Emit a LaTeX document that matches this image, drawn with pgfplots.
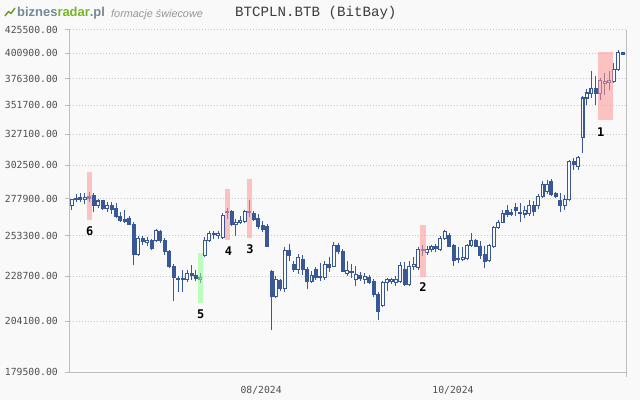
\documentclass[border=0pt]{standalone}
\usepackage{fontspec}
\setmainfont{Liberation Sans}
\setmonofont{DejaVu Sans Mono}
\newfontfamily\titlefont{Liberation Mono}
\usepackage{pgfplots}
\usepackage{pgfplotstable}
\pgfplotsset{compat=1.18}
\definecolor{bgc}{RGB}{249,249,249}
\definecolor{candle}{RGB}{56,88,152}
\definecolor{axisgray}{RGB}{190,190,190}
\definecolor{gridgray}{RGB}{200,200,200}
\definecolor{ticktext}{RGB}{80,80,80}
\definecolor{titletext}{RGB}{60,60,60}
\definecolor{hlpink}{RGB}{255,150,150}
\definecolor{hlgreen}{RGB}{140,255,140}
\definecolor{logogreen}{RGB}{120,180,40}
\definecolor{logogray}{RGB}{120,135,150}
\definecolor{subgray}{RGB}{150,150,150}

% daily candles (weekdays), n = candle index, o h l c in PLN
\pgfplotstableread{
n o h l c
0 273100 278100 270500 277400
1 277400 281500 275400 277900
2 277800 282200 276000 278500
3 277400 282200 274500 278600
4 278500 282800 275600 279600
5 280300 281700 268600 273500
6 273100 277900 271300 276400
7 276400 277400 269900 271300
8 271300 275500 268700 273500
9 273000 275500 267500 270800
10 271300 275300 264600 265800
11 265900 268600 261900 263000
12 263700 269900 261500 262300
13 264600 266100 260100 260800
14 260800 262000 235000 241800
15 241800 252900 240600 251450
16 251450 252900 247300 249400
17 249200 252700 246500 250000
18 250000 251000 244600 245300
19 250000 257800 249200 256400
20 255700 256800 248900 250000
21 250000 251600 241200 243200
22 243200 244300 233200 234200
23 234200 235600 214900 228100
24 227100 228900 219900 227600
25 227300 232600 220000 226900
26 226700 232600 225600 230100
27 230100 235000 226700 228900
28 228900 232600 225750 227600
29 227000 230500 224900 227900
30 240750 252300 240000 250000
31 250000 256400 249200 254800
32 254800 256400 251500 254200
33 253500 256000 251500 254800
34 252100 268100 251000 266800
35 268600 271300 264200 269500
36 269000 270000 259700 260800
37 260800 264100 253000 261900
38 261900 266100 260800 263000
39 262300 270100 261500 269000
40 269000 277400 265300 268600
41 267500 269500 262800 264100
42 264600 267500 257500 259300
43 259700 262800 255500 257500
44 259300 260800 246100 246500
45 231500 232600 200000 217300
46 217300 228900 216500 226700
47 226300 227400 220100 221600
48 221600 246100 219600 243800
49 243800 247900 237500 241200
50 235650 237500 231300 232600
51 232600 241800 230100 239800
52 238700 241200 229500 232600
53 232600 233800 221200 225750
54 225750 232000 225000 228900
55 232600 233800 226700 228100
56 228500 236300 225750 228000
57 228000 237500 226700 235500
58 235500 240000 231300 233700
59 234600 249200 233800 247300
60 247300 248500 241800 243200
61 243200 244900 231300 231500
62 230100 237500 228900 232100
63 231500 235600 227600 230600
64 226700 234500 223000 229500
65 229000 231300 226000 227600
66 227000 230500 224000 228500
67 228000 229500 224000 225200
68 225750 227200 216900 218500
69 218500 219600 204900 209400
70 212500 226100 211400 224900
71 224900 227600 220100 226700
72 225750 227600 224500 227000
73 225200 229000 223000 227000
74 225750 236900 225000 235000
75 232600 236900 222900 223960
76 224000 237500 222900 234600
77 234600 240000 232600 235500
78 233600 246100 232600 244400
79 244400 247300 240800 243800
80 242800 246700 241200 244900
81 244400 247300 243000 246500
82 246500 247900 243000 245200
83 244900 252900 243600 251450
84 251450 256800 250400 255700
85 253500 254800 246100 246700
86 246900 247900 234600 237700
87 238300 245900 236300 239200
88 238700 245900 237700 239800
89 239200 247900 238100 246900
90 246900 254800 246400 250400
91 250400 251000 246100 246500
92 246500 250000 238700 241200
93 241800 246500 233600 237100
94 237700 247900 236900 246900
95 246500 259500 245500 258600
96 258600 263500 257500 261900
97 261900 270100 261500 268100
98 269700 273400 265300 267500
99 268600 270800 266100 267500
100 271900 275000 266100 269700
101 268600 275200 262300 267800
102 267500 272800 264800 269700
103 268100 277400 266300 273500
104 273500 276200 266300 269000
105 273500 281000 271000 279800
106 279800 290600 278800 288250
107 283400 291100 281000 288000
108 290600 291900 279600 281000
109 281700 282500 278800 279800
110 276970 282200 268600 273000
111 273000 280300 270500 277400
112 277400 306700 276700 305400
113 305400 308100 299100 302700
114 301400 309300 299100 308100
115 324700 360400 312000 358300
116 358300 366500 352200 362900
117 362200 383100 358300 367400
118 367400 378800 352200 362200
119 362200 376900 356100 374400
120 371800 381500 361300 373300
121 372300 383100 365800 374400
122 373300 391600 372000 385400
123 385400 404500 383100 401700
124 401800 402500 399000 399500
}\ohlc

\begin{document}
\begin{tikzpicture}
\fill[bgc] (0,0) rectangle (640bp,400bp);
\useasboundingbox (0,0) rectangle (640bp,400bp);

% logo and title
\draw[logogreen!85!black, line width=1.4bp, line join=round] (5bp,384bp) -- (8.5bp,388.5bp) -- (11bp,386.5bp) -- (15bp,392bp);
\node[anchor=base west, inner sep=0pt, font=\bfseries\fontsize{13}{13}\selectfont] at (17bp,383.5bp)
  {\textcolor{logogray}{biznes}\textcolor{logogreen}{radar}\textcolor{logogray}{.pl}};
\node[anchor=base west, inner sep=0pt, font=\itshape\fontsize{10.9}{11}\selectfont, text=subgray] at (111bp,382.7bp) {formacje świecowe};
\node[anchor=base west, inner sep=0pt, font=\titlefont\fontsize{14.2}{14}\selectfont, text=titletext] at (235bp,383.3bp) {BTCPLN.BTB (BitBay)};

\begin{axis}[
  at={(69.5bp,27.5bp)}, anchor=south west, scale only axis,
  width=556.5bp, height=342.7bp,
  xmin=-0.47, xmax=124.78,
  ymode=log, ymin=179500, ymax=425500,
  axis x line*=bottom, axis y line*=left,
  axis line style={draw=axisgray, line width=1bp},
  ytick={179500,204100,228700,253300,277900,302500,327100,351700,376300,400900,425500},
  yticklabels={179500.00,204100.00,228700.00,253300.00,277900.00,302500.00,327100.00,351700.00,376300.00,400900.00,425500.00},
  xtick={42.65,85.85}, xticklabels={08/2024,10/2024},
  tick align=outside, major tick length=4.5bp,
  ytick style={draw=axisgray, line width=1bp},
  xtick style={draw=none},
  yminorticks=false, xminorticks=false,
  ymajorgrids,
  grid style={draw=gridgray, line width=1bp, dash pattern=on 1bp off 2bp},
  tick label style={font=\ttfamily\fontsize{9.8}{10}\selectfont, text=ticktext},
  yticklabel style={anchor=east, inner sep=0pt, xshift=-7bp},
  xticklabel style={anchor=base, inner sep=0pt, yshift=-16.5bp},
  candle wick/.style={draw=candle, line width=1bp, mark=none},
  candle body/.style={draw=candle, line width=1.1bp, mark=none},
]
\pgfplotstablegetrowsof{\ohlc}
\pgfmathtruncatemacro{\lastrow}{\pgfplotsretval-1}
\pgfplotsforeachungrouped \i in {0,...,\lastrow}{%
  \pgfplotstablegetelem{\i}{n}\of\ohlc \let\cn\pgfplotsretval
  \pgfplotstablegetelem{\i}{o}\of\ohlc \let\co\pgfplotsretval
  \pgfplotstablegetelem{\i}{h}\of\ohlc \let\ch\pgfplotsretval
  \pgfplotstablegetelem{\i}{l}\of\ohlc \let\cl\pgfplotsretval
  \pgfplotstablegetelem{\i}{c}\of\ohlc \let\cc\pgfplotsretval
  \pgfmathsetmacro\xl{\cn-0.33}%
  \pgfmathsetmacro\xr{\cn+0.33}%
  \ifnum\cc<\co\relax \def\bodyfill{candle}\else\def\bodyfill{bgc}\fi
  \edef\plotcmd{%
    \noexpand\addplot[candle wick] coordinates {(\cn,\cl) (\cn,\ch)};
    \noexpand\addplot[candle body, fill=\bodyfill] coordinates {(\xl,\co) (\xr,\co) (\xr,\cc) (\xl,\cc)} --cycle;
  }\plotcmd
}
% pattern highlights
\addplot[draw=none, fill=hlpink, fill opacity=0.55] coordinates {(3.4,263500) (4.6,263500) (4.6,297200) (3.4,297200)} --cycle;
\addplot[draw=none, fill=hlgreen, fill opacity=0.55] coordinates {(28.45,213600) (29.55,213600) (29.55,242400) (28.45,242400)} --cycle;
\addplot[draw=none, fill=hlpink, fill opacity=0.55] coordinates {(34.5,250600) (35.65,250600) (35.65,284600) (34.5,284600)} --cycle;
\addplot[draw=none, fill=hlpink, fill opacity=0.55] coordinates {(39.4,251800) (40.55,251800) (40.55,291900) (39.4,291900)} --cycle;
\addplot[draw=none, fill=hlpink, fill opacity=0.55] coordinates {(78.4,228500) (79.75,228500) (79.75,260100) (78.4,260100)} --cycle;
\addplot[draw=none, fill=hlpink, fill opacity=0.55] coordinates {(118.45,338700) (121.85,338700) (121.85,402500) (118.45,402500)} --cycle;
\begin{scope}[every node/.style={font=\ttfamily\bfseries\fontsize{12}{12}\selectfont, inner sep=0pt, text=black}]
\node at (axis cs:4.07,256160) {6};
\node at (axis cs:29.05,207600) {5};
\node at (axis cs:35.3,243800) {4};
\node at (axis cs:40.15,244900) {3};
\node at (axis cs:79.1,222300) {2};
\node at (axis cs:119.1,329100) {1};
\end{scope}
\end{axis}
\draw[axisgray, line width=1bp] (626bp,23bp) -- (626bp,370.2bp);
\end{tikzpicture}
\end{document}
